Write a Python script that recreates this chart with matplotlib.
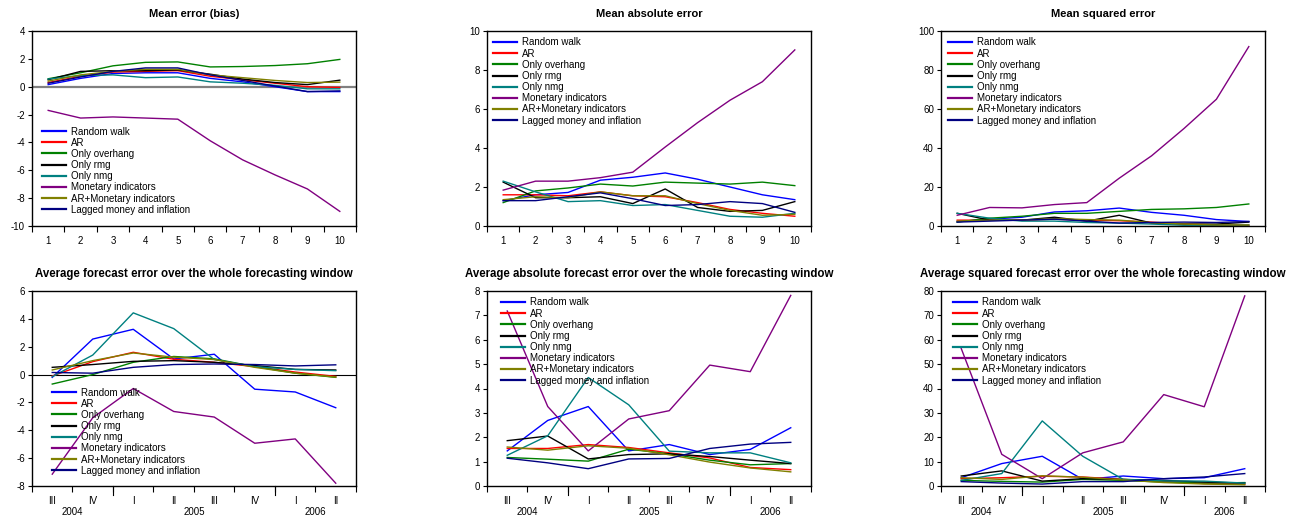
import matplotlib
matplotlib.use('Agg')
import matplotlib.pyplot as plt
from matplotlib.ticker import FixedLocator, FixedFormatter, NullFormatter, MultipleLocator

plt.rcParams['font.family'] = ['Liberation Sans', 'DejaVu Sans']
plt.rcParams['axes.unicode_minus'] = False

# series names and colours (legend order)
models = ['Random walk', 'AR', 'Only overhang', 'Only rmg', 'Only nmg',
          'Monetary indicators', 'AR+Monetary indicators', 'Lagged money and inflation']
colors = ['#0000ff', '#ff0000', '#008000', '#000000', '#008080',
          '#800080', '#808000', '#000080']

# top row: by forecast horizon
horizons = [1, 2, 3, 4, 5, 6, 7, 8, 9, 10]

mean_error = [
    [0.15, 0.6, 0.95, 1.0, 1.0, 0.6, 0.35, 0.0, -0.35, -0.35],
    [0.3, 0.75, 1.05, 1.1, 1.15, 0.75, 0.5, 0.25, 0.0, -0.05],
    [0.57, 1.0, 1.5, 1.75, 1.78, 1.42, 1.45, 1.52, 1.65, 1.96],
    [0.5, 1.1, 1.15, 1.15, 1.2, 0.9, 0.55, 0.3, 0.15, 0.47],
    [0.55, 0.8, 0.85, 0.65, 0.7, 0.35, 0.25, 0.1, -0.15, -0.15],
    [-1.7, -2.25, -2.17, -2.25, -2.33, -3.88, -5.25, -6.33, -7.34, -8.95],
    [0.4, 0.85, 1.1, 1.25, 1.25, 0.85, 0.65, 0.45, 0.3, 0.33],
    [0.25, 0.7, 1.1, 1.35, 1.35, 0.85, 0.45, 0.05, -0.35, -0.3],
]

mean_abs_error = [
    [1.3, 1.6, 1.72, 2.35, 2.5, 2.72, 2.4, 2.0, 1.6, 1.35],
    [1.6, 1.6, 1.55, 1.75, 1.55, 1.5, 1.2, 0.85, 0.65, 0.5],
    [1.2, 1.8, 1.95, 2.15, 2.05, 2.25, 2.2, 2.15, 2.25, 2.07],
    [2.25, 1.45, 1.45, 1.5, 1.15, 1.9, 0.95, 0.75, 0.8, 1.25],
    [2.3, 1.75, 1.25, 1.3, 1.05, 1.1, 0.8, 0.5, 0.45, 0.65],
    [1.84, 2.3, 2.3, 2.48, 2.76, 4.05, 5.3, 6.45, 7.4, 9.03],
    [1.35, 1.5, 1.45, 1.75, 1.55, 1.55, 1.15, 0.8, 0.55, 0.6],
    [1.3, 1.3, 1.5, 1.7, 1.4, 1.05, 1.1, 1.25, 1.15, 0.7],
]

mean_sq_error = [
    [2.2, 3.5, 4.5, 7.2, 7.8, 9.2, 7.0, 5.5, 3.3, 2.3],
    [3.0, 3.0, 3.0, 3.5, 3.0, 2.7, 2.0, 1.0, 0.6, 0.4],
    [2.0, 4.0, 5.0, 6.5, 6.5, 7.5, 8.5, 8.8, 9.5, 11.3],
    [6.5, 3.0, 3.0, 4.5, 2.5, 5.5, 1.5, 1.0, 1.0, 2.0],
    [6.5, 4.0, 2.5, 2.5, 1.8, 1.5, 1.0, 0.4, 0.4, 0.5],
    [5.5, 9.5, 9.3, 11.0, 12.0, 24.5, 36.0, 50.0, 65.0, 92.0],
    [2.5, 3.0, 3.0, 3.8, 3.3, 3.0, 1.7, 1.0, 0.5, 0.5],
    [2.0, 2.5, 3.0, 3.5, 2.5, 1.5, 1.8, 2.0, 1.8, 2.3],
]

# bottom row: by forecast quarter
quarters = ['III', 'IV', 'I', 'II', 'III', 'IV', 'I', 'II']
years = ['2004', '2005', '2006']
quarters_per_year = [2, 4, 2]

avg_error = [
    [-0.2, 2.55, 3.25, 1.12, 1.46, -1.05, -1.25, -2.38],
    [-0.1, 0.93, 1.6, 1.1, 0.88, 0.57, 0.18, -0.13],
    [-0.68, 0.0, 0.88, 1.3, 1.13, 0.57, 0.1, -0.2],
    [0.52, 0.72, 0.95, 1.0, 0.88, 0.65, 0.37, 0.33],
    [-0.15, 1.4, 4.43, 3.3, 1.08, 0.57, 0.37, 0.28],
    [-7.15, -3.1, -1.0, -2.65, -3.05, -4.93, -4.62, -7.8],
    [0.33, 1.0, 1.55, 1.25, 1.08, 0.52, 0.1, -0.18],
    [0.15, 0.1, 0.52, 0.72, 0.76, 0.72, 0.62, 0.7],
]

avg_abs_error = [
    [1.44, 2.69, 3.26, 1.44, 1.7, 1.29, 1.5, 2.39],
    [1.54, 1.54, 1.7, 1.58, 1.36, 1.15, 0.76, 0.67],
    [1.17, 1.1, 1.02, 1.51, 1.32, 1.06, 0.87, 0.92],
    [1.86, 2.05, 1.11, 1.29, 1.32, 1.21, 1.06, 0.92],
    [1.26, 2.06, 4.45, 3.33, 1.43, 1.36, 1.36, 0.95],
    [7.18, 3.26, 1.44, 2.75, 3.09, 4.96, 4.69, 7.82],
    [1.6, 1.47, 1.65, 1.55, 1.28, 0.98, 0.74, 0.58],
    [1.14, 0.95, 0.71, 1.11, 1.13, 1.54, 1.72, 1.79],
]

avg_sq_error = [
    [3.4, 9.2, 12.2, 2.7, 4.1, 3.0, 3.4, 7.1],
    [3.0, 3.4, 4.0, 3.7, 2.7, 1.8, 1.0, 0.7],
    [2.3, 1.9, 1.6, 2.7, 2.3, 1.6, 1.2, 1.4],
    [4.1, 6.2, 2.0, 3.0, 2.7, 2.3, 1.6, 1.2],
    [2.3, 5.1, 26.7, 12.2, 2.7, 2.1, 2.0, 1.2],
    [56.4, 13.0, 3.0, 13.6, 18.1, 37.5, 32.5, 78.0],
    [3.4, 2.7, 4.2, 3.6, 2.5, 1.4, 0.8, 0.5],
    [1.8, 1.2, 0.8, 1.8, 1.8, 3.0, 3.7, 5.1],
]

W, H = 1306, 519
fig = plt.figure(figsize=(W / 100, H / 100), dpi=100)

lefts = [32, 487, 941]
aw, ah = 324, 195
tops = [31, 291]

panels = [
    ('Mean error (bias)', mean_error, (-10, 4), 2, 0, (0.031, 0.51)),
    ('Mean absolute error', mean_abs_error, (0, 10), 2, 0, (0.019, 0.967)),
    ('Mean squared error', mean_sq_error, (0, 100), 20, 0, (0.022, 0.967)),
    ('Average forecast error over the whole forecasting window', avg_error, (-8, 6), 2, 1, (0.062, 0.505)),
    ('Average absolute forecast error over the whole forecasting window', avg_abs_error, (0, 8), 1, 1, (0.043, 0.967)),
    ('Average squared forecast error over the whole forecasting window', avg_sq_error, (0, 80), 10, 1, (0.037, 0.967)),
]

for i, (title, values, ylim, ystep, row, leg_pos) in enumerate(panels):
    col = i % 3
    ax = fig.add_axes([lefts[col] / W, 1 - (tops[row] + ah) / H, aw / W, ah / H])

    if row == 0:
        xs = horizons
        labels = [str(h) for h in horizons]
    else:
        xs = list(range(1, len(quarters) + 1))
        labels = quarters

    if i == 0:
        ax.axhline(0, color='#808080', lw=1.6, zorder=1)
    if i == 3:
        ax.axhline(0, color='black', lw=0.8, zorder=1)

    for name, c, ys in zip(models, colors, values):
        ax.plot(xs, ys, color=c, lw=1.0, label=name, zorder=2)

    ax.set_xlim(0.5, len(xs) + 0.5)
    ax.set_ylim(*ylim)
    ax.yaxis.set_major_locator(MultipleLocator(ystep))

    bounds = [x - 0.5 for x in xs] + [xs[-1] + 0.5]
    ax.xaxis.set_major_locator(FixedLocator(bounds))
    ax.xaxis.set_major_formatter(NullFormatter())
    ax.xaxis.set_minor_locator(FixedLocator(xs))
    ax.xaxis.set_minor_formatter(FixedFormatter(labels))
    ax.tick_params(axis='x', which='major', direction='out', length=4, width=0.8)
    ax.tick_params(axis='x', which='minor', length=0, pad=7, labelsize=7)
    ax.tick_params(axis='y', direction='out', length=3, width=0.8, pad=2, labelsize=7)

    if row == 1:
        start = 0.5
        for yr, n in zip(years, quarters_per_year):
            ax.text(start + n / 2, -0.135, yr, transform=ax.get_xaxis_transform(),
                    ha='center', va='center', fontsize=7)
            start += n
            if start < len(xs):
                ax.plot([start, start], [0, -0.045], color='black', lw=0.8,
                        transform=ax.get_xaxis_transform(), clip_on=False)

    for s in ax.spines.values():
        s.set_linewidth(1.0)

    ax.set_title(title, fontsize=8.0 if row == 0 else 8.3, fontweight='bold', pad=10)

    leg = ax.legend(loc='upper left', bbox_to_anchor=leg_pos, frameon=False,
                    fontsize=7, borderpad=0, borderaxespad=0, handlelength=2.5,
                    handletextpad=0.5, labelspacing=0.12)
    for h in leg.get_lines():
        h.set_linewidth(1.6)

fig.savefig('out.png', dpi=100)
